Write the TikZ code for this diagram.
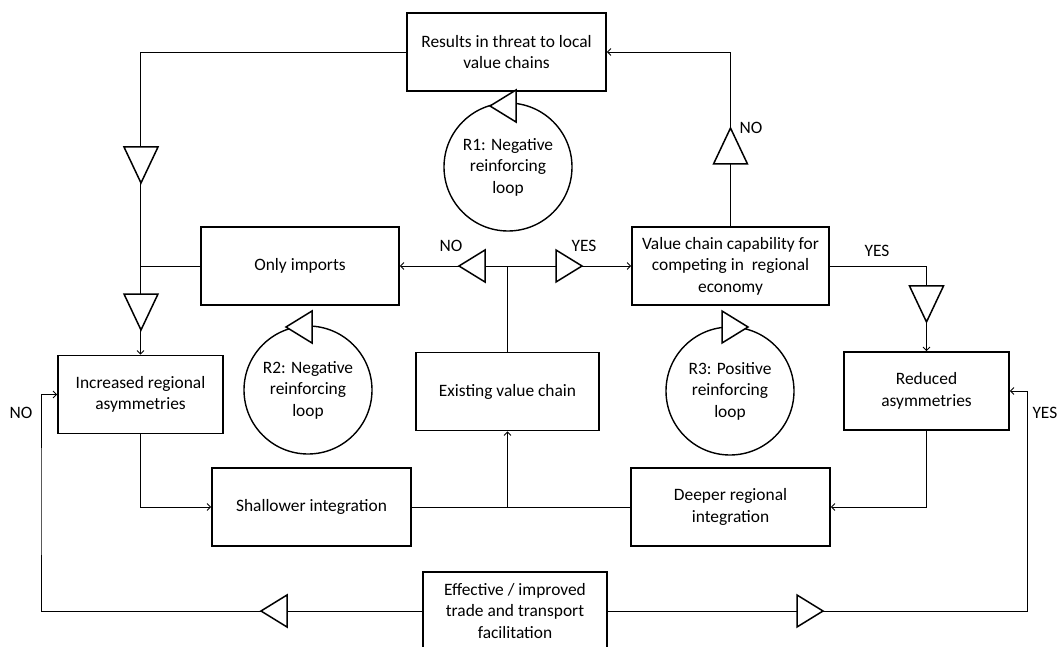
\documentclass[tikz,border=0pt]{standalone}
\usepackage{fontspec}
\setmainfont{Carlito}
\usepackage{tikz}
\usetikzlibrary{arrows.meta}

\tikzset{
  box/.style={draw, line width=1.6pt, align=center, minimum height=78pt, inner sep=2pt},
  loopc/.style={draw, circle, line width=1.4pt, minimum size=128pt, align=center, inner sep=0pt},
  link/.style={line width=0.9pt},
  arr/.style={link, -{Straight Barb[length=3.5pt,width=7pt]}},
  tri/.style={draw, line width=1.5pt, fill=white, line join=miter}
}

% open triangles sitting on the links
\newcommand{\tridown}[2]{\draw[tri] (#1-17,#2-18) -- (#1+17,#2-18) -- (#1,#2+18) -- cycle;}
\newcommand{\triup}[2]{\draw[tri] (#1-17,#2+18) -- (#1+17,#2+18) -- (#1,#2-18) -- cycle;}
\newcommand{\trileft}[2]{\draw[tri] (#1+13,#2-16) -- (#1+13,#2+16) -- (#1-13,#2) -- cycle;}
\newcommand{\triright}[2]{\draw[tri] (#1-13,#2-16) -- (#1-13,#2+16) -- (#1+13,#2) -- cycle;}

\begin{document}
\begin{tikzpicture}[x=1pt, y=-1pt, font=\fontsize{17.4}{21.5}\selectfont]
\useasboundingbox (0,0) rectangle (1058,647);

% boxes
\node[box, minimum width=199pt] (res) at (506.5,52) {Results in threat to local\\value chains};
\node[box, minimum width=198pt] (imp) at (300,266) {Only imports};
\node[box, minimum width=197pt] (val) at (730.5,266) {Value chain capability for\\competing in~ regional\\economy};
\node[box, minimum width=165pt] (inc) at (140.5,394.5) {Increased regional\\asymmetries};
\node[box, minimum width=183pt] (exi) at (507.5,391.5) {Existing value chain};
\node[box, minimum width=165pt] (red) at (926.5,391) {Reduced\\asymmetries};
\node[box, minimum width=199pt] (sha) at (311.5,507) {Shallower integration};
\node[box, minimum width=199pt] (dee) at (730.5,507) {Deeper regional\\integration};
\node[box, minimum width=184pt] (eff) at (515,611) {Effective / improved\\trade and transport\\facilitation};

\coordinate (jtop) at (exi.north |- imp.east);
\coordinate (jbot) at (exi.south |- sha.east);
\coordinate (lft) at (41,500);
\coordinate (rgt) at (1027,500);

% links
\draw[arr] (res.west) -| (inc.north);
\draw[link] (imp.west) -- (imp.west -| inc.north);
\draw[link] (exi.north) -- (jtop);
\draw[arr] (jtop) -- (imp.east);
\draw[arr] (jtop) -- (val.west);
\draw[arr] (val.north) |- (res.east);
\draw[arr] (val.east) -| (red.north);
\draw[arr] (inc.south) |- (sha.west);
\draw[link] (sha.east) -- (dee.west);
\draw[arr] (jbot) -- (exi.south);
\draw[arr] (red.south) |- (dee.east);
\draw[arr] (eff.west) -| (lft) |- (inc.west);
\draw[arr] (eff.east) -| (rgt) |- (red.east);

\tridown{141}{165}
\tridown{141}{312}
\triup{730.5}{146}
\trileft{472}{266}
\triright{569}{266}
\tridown{926.5}{304}
\trileft{274}{611}
\triright{810}{611}

% loops
\node[loopc] (r1) at (508,167) {R1: Negative\\reinforcing\\loop};
\node[loopc] (r2) at (308,390) {R2: Negative\\reinforcing\\loop};
\node[loopc] (r3) at (730,391) {R3: Positive\\reinforcing\\loop};
\trileft{503}{106}
\trileft{299}{327}
\triright{735}{327}

% labels
\node (lno1) at (451,246) {NO};
\node (lyes1) at (584,246) {YES};
\node[anchor=west] (lno2) at (736,128) {NO};
\node (lyes2) at (877,251) {YES};
\node (lno3) at (21,413) {NO};
\node[anchor=east, inner sep=0.5pt] (lyes3) at (1058,413) {YES};
\end{tikzpicture}
\end{document}
